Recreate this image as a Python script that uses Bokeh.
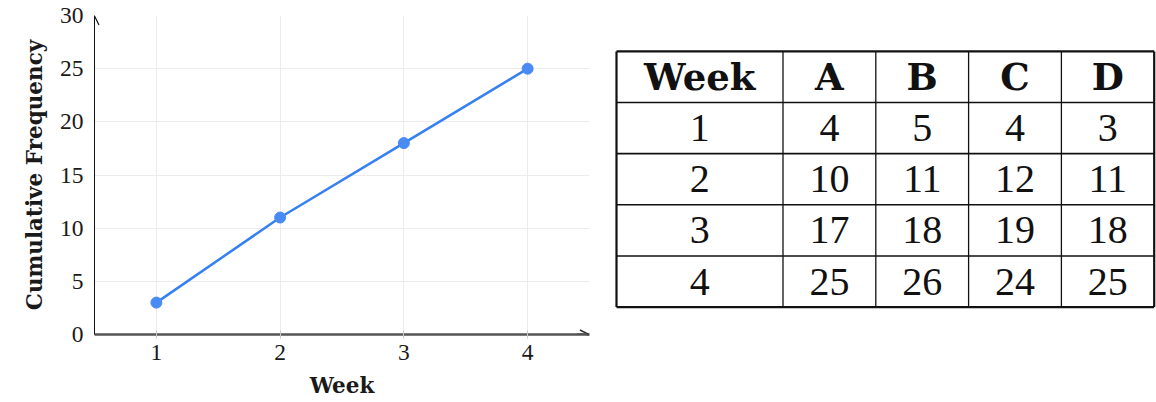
from bokeh.plotting import figure
from bokeh.layouts import row
from bokeh.models import Range1d, FixedTicker, Arrow, OpenHead
from bokeh.embed import file_html
from bokeh.resources import INLINE
from bokeh.core.properties import value

# ---- data ----
weeks = [1, 2, 3, 4]
cum_freq = [3, 11, 18, 25]

x_ticks = [1, 2, 3, 4]
y_ticks = [0, 5, 10, 15, 20, 25, 30]

table_header = ["Week", "A", "B", "C", "D"]
table_weeks = [1, 2, 3, 4]
col_A = [4, 10, 17, 25]
col_B = [5, 11, 18, 26]
col_C = [4, 12, 19, 24]
col_D = [3, 11, 18, 25]

# ---- styles ----
SERIF = "Liberation Serif"
BOLD = "DejaVu Serif"
LINE_BLUE = "#3580f3"
MARK_BLUE = "#4a8af4"

H = 400
TOP = 15
BOTTOM = 65
W1 = 594

# ---- chart ----
p = figure(width=W1, height=H, x_range=Range1d(0.5, 4.5), y_range=Range1d(0, 30),
           output_backend="svg", toolbar_location=None,
           min_border_left=94, min_border_right=5, min_border_top=TOP, min_border_bottom=BOTTOM)
p.outline_line_color = None
p.background_fill_color = "white"

p.xaxis.ticker = FixedTicker(ticks=x_ticks)
p.yaxis.ticker = FixedTicker(ticks=y_ticks)
p.xgrid.ticker = FixedTicker(ticks=x_ticks)
p.ygrid.ticker = FixedTicker(ticks=y_ticks)
p.grid.grid_line_color = "#ececec"
p.grid.grid_line_width = 1

for ax in (p.xaxis[0], p.yaxis[0]):
    ax.major_label_text_font = SERIF
    ax.major_label_text_font_size = "23.5px"
    ax.major_label_text_color = "#1a1a1a"
    ax.axis_label_text_font = BOLD
    ax.axis_label_text_font_style = "bold"
    ax.axis_label_text_font_size = "21.5px"
    ax.axis_label_text_color = "#1a1a1a"
    ax.minor_tick_line_color = None

p.xaxis.axis_label = "Week"
p.yaxis.axis_label = "Cumulative Frequency"
p.xaxis.axis_line_color = "#555555"
p.xaxis.axis_line_width = 2.5
p.xaxis.major_tick_line_color = "#c8c8c8"
p.xaxis.major_tick_in = 4
p.xaxis.major_tick_out = 4
p.xaxis.major_label_standoff = 6
p.xaxis.axis_label_standoff = 10
p.yaxis.axis_line_color = "#111111"
p.yaxis.axis_line_width = 1
p.yaxis.major_tick_line_color = None
p.yaxis.major_tick_in = 0
p.yaxis.major_tick_out = 0
p.yaxis.major_label_standoff = 11
p.yaxis.axis_label_standoff = 10

p.add_layout(Arrow(end=OpenHead(size=9, line_color="#333333", line_width=1.4),
                   x_start=4.4, y_start=0, x_end=4.495, y_end=0,
                   line_color="#555555", line_width=2.5))
p.add_layout(Arrow(end=OpenHead(size=9, line_color="#111111", line_width=1.2),
                   x_start=0.5, y_start=29, x_end=0.5, y_end=29.95,
                   line_color="#111111", line_width=1))

p.line(weeks, cum_freq, line_color=LINE_BLUE, line_width=2.5)
p.scatter(weeks, cum_freq, size=11, fill_color=MARK_BLUE, line_color=MARK_BLUE)

# ---- table (drawn in page pixel units) ----
W2 = 562
t = figure(width=W2, height=H, x_range=Range1d(W1, W1 + W2), y_range=Range1d(H - BOTTOM, TOP),
           output_backend="svg", toolbar_location=None,
           min_border_left=0, min_border_right=0,
           min_border_top=TOP, min_border_bottom=BOTTOM)
t.axis.visible = False
t.grid.visible = False
t.outline_line_color = None

TBL_LEFT = 616.0
FIRST_W = 166.5
COL_W = 92.8
TBL_TOP = 51.0
ROW_H = 51.3

n_cols = len(table_header)
n_rows = len(table_weeks) + 1
col_edges = [TBL_LEFT] + [TBL_LEFT + FIRST_W + i * COL_W for i in range(n_cols)]
row_edges = [TBL_TOP + i * ROW_H for i in range(n_rows + 1)]
x_left, x_right = col_edges[0], col_edges[-1]
y_top, y_bot = row_edges[0], row_edges[-1]

# inner lines
t.segment(x0=col_edges[1:-1], y0=[y_top] * (n_cols - 1), x1=col_edges[1:-1], y1=[y_bot] * (n_cols - 1),
          line_color="#111111", line_width=1.3)
t.segment(x0=[x_left] * (n_rows - 1), y0=row_edges[1:-1], x1=[x_right] * (n_rows - 1), y1=row_edges[1:-1],
          line_color="#111111", line_width=1.6)
# outer border
t.segment(x0=[x_left, x_left, x_left, x_right], y0=[y_top, y_bot, y_top, y_top],
          x1=[x_right, x_right, x_left, x_right], y1=[y_top, y_bot, y_bot, y_bot],
          line_color="#111111", line_width=2.2)

centers_x = [(col_edges[i] + col_edges[i + 1]) / 2 for i in range(n_cols)]
centers_y = [(row_edges[i] + row_edges[i + 1]) / 2 for i in range(n_rows)]

t.text(x=centers_x, y=[centers_y[0]] * n_cols, text=table_header,
       text_font=value(BOLD), text_font_style="bold", text_font_size="37px",
       text_align="center", text_baseline="middle", text_color="#111111")

body_x, body_y, body_t = [], [], []
for r, vals in enumerate(zip(table_weeks, col_A, col_B, col_C, col_D)):
    for c, v in enumerate(vals):
        body_x.append(centers_x[c])
        body_y.append(centers_y[r + 1])
        body_t.append(str(v))
t.text(x=body_x, y=body_y, text=body_t,
       text_font=value(SERIF), text_font_size="40px",
       text_align="center", text_baseline="middle", text_color="#111111")

layout = row(p, t)
open("out.html", "w").write(file_html(layout, INLINE))
